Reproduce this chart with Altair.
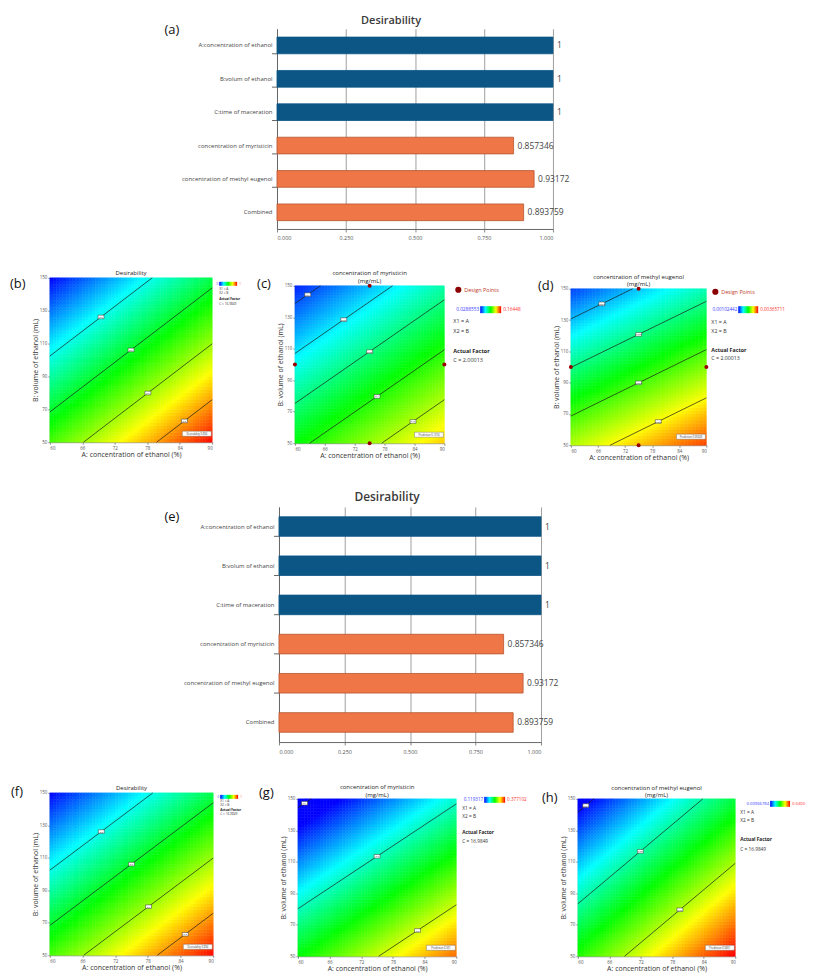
import altair as alt
import numpy as np
import pandas as pd

FONT = "Open Sans"

# ---------------- bar charts (a) and (e) ----------------
bar_names = ["A:concentration of ethanol", "B:volum of ethanol", "C:time of maceration",
             "concentration of myristicin", "concentration of methyl eugenol", "Combined"]
bar_values = [1.0, 1.0, 1.0, 0.857346, 0.93172, 0.893759]
bar_value_text = ["1", "1", "1", "0.857346", "0.93172", "0.893759"]
bar_group = ["factor", "factor", "factor", "response", "response", "response"]
bar_ticks = [0.0, 0.25, 0.5, 0.75, 1.0]
bar_fill = ["#0b5685", "#ee7647"]
bar_edge = ["#0b5685", "#b8562f"]

# ---------------- contour panels ----------------
A_ticks = [60, 66, 72, 78, 84, 90]
B_ticks = [50, 70, 90, 110, 130, 150]
design_A = [60, 90, 75, 75]
design_B = [100, 100, 150, 50]
rainbow = ["#0000ff", "#00ffff", "#00ff00", "#ffff00", "#ff0000"]

# surface values at the corners (A=60,B=150), (A=90,B=150), (A=60,B=50), (A=90,B=50)
des_corners = [0.360, 0.582, 0.654, 0.876]
des_levels = [0.5, 0.6, 0.7, 0.8]
des_level_text = ["0.5", "0.6", "0.7", "0.8"]

myr1_corners = [0.0329, 0.0744, 0.0959, 0.1374]
myr1_levels = [0.04, 0.06, 0.08, 0.10, 0.12]
myr1_level_text = ["0.04", "0.06", "0.08", "0.1", "0.12"]
myr1_range = [0.0288553, 0.16448]

meu1_corners = [0.00119, 0.00187, 0.00280, 0.00349]
meu1_levels = [0.0015, 0.002, 0.0025, 0.003]
meu1_level_text = ["0.0015", "0.002", "0.0025", "0.003"]
meu1_range = [0.00102442, 0.00365711]

myr2_corners = [0.0913, 0.195, 0.247, 0.351]
myr2_levels = [0.1, 0.2, 0.3]
myr2_level_text = ["0.1", "0.2", "0.3"]
myr2_range = [0.119317, 0.377102]

meu2_corners = [0.00854, 0.02297, 0.02572, 0.04015]
meu2_levels = [0.01, 0.02, 0.03]
meu2_level_text = ["0.01", "0.02", "0.03"]
meu2_range = [0.00966784, 0.0400]

ONE = pd.DataFrame({"k": [0]})


def field(c, A, B):
    u = (np.asarray(A) - 60.0) / 30.0
    w = (150.0 - np.asarray(B)) / 100.0
    return c[0] * (1 - u) * (1 - w) + c[1] * u * (1 - w) + c[2] * (1 - u) * w + c[3] * u * w


def surface(c, n=50):
    ae = np.linspace(60, 90, n + 1)
    be = np.linspace(50, 150, n + 1)
    a0, b0 = np.meshgrid(ae[:-1], be[:-1])
    a1, b1 = np.meshgrid(ae[1:], be[1:])
    v = field(c, (a0 + a1) / 2, (b0 + b1) / 2)
    return pd.DataFrame({"A0": a0.ravel(), "A1": a1.ravel(), "B0": b0.ravel(),
                         "B1": b1.ravel(), "v": v.ravel()})


def contour_lines(c, levels, texts):
    edges = [((60, 150), (90, 150), c[0], c[1]), ((60, 50), (90, 50), c[2], c[3]),
             ((60, 150), (60, 50), c[0], c[2]), ((90, 150), (90, 50), c[1], c[3])]
    rows, labs = [], []
    for L, t in zip(levels, texts):
        pts = []
        for p0, p1, v0, v1 in edges:
            if v0 == v1:
                continue
            f = (L - v0) / (v1 - v0)
            if 0 <= f <= 1:
                pt = (p0[0] + f * (p1[0] - p0[0]), p0[1] + f * (p1[1] - p0[1]))
                if all(abs(pt[0] - q[0]) > 1e-6 or abs(pt[1] - q[1]) > 1e-6 for q in pts):
                    pts.append(pt)
        pts = pts[:2]
        if len(pts) < 2:
            continue
        for p in pts:
            rows.append({"level": t, "A": p[0], "B": p[1]})
        labs.append({"level": t, "A": (pts[0][0] + pts[1][0]) / 2,
                     "B": (pts[0][1] + pts[1][1]) / 2})
    return pd.DataFrame(rows), pd.DataFrame(labs)


def txt(s, x, y, size, color="#222", weight="normal", align="left", baseline="middle"):
    return alt.Chart(ONE).mark_text(text=s, fontSize=size, color=color, fontWeight=weight,
                                    align=align, baseline=baseline).encode(
        x=alt.value(x), y=alt.value(y))


def frame(x0, x1, y0, y1):
    # invisible box that fixes the extent of a cell in the page layout
    return alt.Chart(ONE).mark_rect(opacity=0).encode(
        x=alt.value(x0), x2=alt.value(x1), y=alt.value(y0), y2=alt.value(y1))


def spacer(w):
    return alt.layer(frame(0, w, 0, 1)).properties(width=w, height=1)


GRAD = alt.LinearGradient(gradient="linear", x1=0, x2=1, y1=0, y2=0,
                          stops=[alt.GradientStop(color=c, offset=o)
                                 for c, o in zip(rainbow, [0, 0.25, 0.5, 0.75, 1])])


def contour_panel(W, H, oy, box, tag, tag_dx, tag_dy, title, title_y, corners, levels,
                  level_text, lo, hi, lo_text, hi_text, flag_text, leg, design=False):
    Ht = H + oy
    xs = alt.Scale(domain=[60, 90], nice=False, zero=False)
    ys = alt.Scale(domain=[50, 150], nice=False, zero=False, range=[Ht, oy])
    axx = alt.Axis(values=A_ticks, format="d", title="A: concentration of ethanol (%)",
                   labelFontSize=4.5, titleFontSize=7, tickSize=2, labelPadding=1,
                   titlePadding=1, domainColor="#888", tickColor="#888",
                   labelColor="#555", titleColor="#333", titleFontWeight="normal", grid=False)
    axy = alt.Axis(values=B_ticks, format="d", title="B: volume of ethanol (mL)",
                   labelFontSize=4.5, titleFontSize=7, tickSize=2, labelPadding=1,
                   titlePadding=1, domainColor="#888", tickColor="#888",
                   labelColor="#555", titleColor="#333", titleFontWeight="normal", grid=False)
    cs = alt.Scale(domain=list(np.linspace(lo, hi, 5)), range=rainbow, clamp=True,
                   interpolate="rgb")
    sdf = surface(corners)
    heat = alt.Chart(sdf).mark_rect(strokeWidth=0.5).encode(
        x=alt.X("A0:Q", scale=xs, axis=axx), x2=alt.X2("A1"),
        y=alt.Y("B0:Q", scale=ys, axis=axy), y2=alt.Y2("B1"),
        fill=alt.Fill("v:Q", scale=cs, legend=None),
        stroke=alt.Stroke("v:Q", scale=cs, legend=None))
    ldf, labdf = contour_lines(corners, levels, level_text)
    lines = alt.Chart(ldf).mark_line(color="#1a1a1a", strokeWidth=0.7).encode(
        x=alt.X("A:Q", scale=xs, axis=axx), y=alt.Y("B:Q", scale=ys, axis=axy),
        detail="level:N")
    boxes = alt.Chart(labdf).mark_point(shape="M-1,-0.6L1,-0.6L1,0.6L-1,0.6Z", filled=True,
                                         fill="white", stroke="#333", strokeWidth=0.5,
                                         size=36, opacity=1).encode(
        x=alt.X("A:Q", scale=xs, axis=axx), y=alt.Y("B:Q", scale=ys, axis=axy))
    boxtxt = alt.Chart(labdf).mark_text(fontSize=2.4, color="#333").encode(
        x=alt.X("A:Q", scale=xs, axis=axx), y=alt.Y("B:Q", scale=ys, axis=axy),
        text="level:N")
    L, R, T, Bt = box
    layers = [frame(-L, W + R, -T, Ht + Bt), heat, lines, boxes, boxtxt]
    if design:
        ddf = pd.DataFrame({"A": design_A, "B": design_B})
        layers.append(alt.Chart(ddf).mark_circle(color="#990000", size=16, opacity=1).encode(
            x=alt.X("A:Q", scale=xs, axis=axx), y=alt.Y("B:Q", scale=ys, axis=axy)))
    # prediction flag
    layers.append(alt.Chart(ONE).mark_rect(fill="white", stroke="#666", strokeWidth=0.4).encode(
        x=alt.value(W - 30), x2=alt.value(W - 1), y=alt.value(Ht - 11), y2=alt.value(Ht - 6)))
    layers.append(txt(flag_text, W - 15.5, Ht - 8.5, 2.6, "#333", align="center"))
    # legend
    fs = leg["fs"]
    if design:
        layers.append(alt.Chart(ONE).mark_circle(color="#8b0000", size=38, opacity=1).encode(
            x=alt.value(W + leg["dp"][0]), y=alt.value(oy + leg["dp"][1])))
        layers.append(txt("Design Points", W + leg["dp"][0] + 6, oy + leg["dp"][1], fs,
                          "#c0392b"))
    bx0, bx1, by = leg["bar"]
    by = by + oy
    bh = leg["bh"]
    layers.append(alt.Chart(ONE).mark_rect(fill=GRAD).encode(
        x=alt.value(W + bx0), x2=alt.value(W + bx1), y=alt.value(by - bh / 2),
        y2=alt.value(by + bh / 2)))
    layers.append(txt(lo_text, W + bx0 - 1, by, leg["fs2"], "#3a3aff", align="right"))
    layers.append(txt(hi_text, W + bx1 + 2, by, leg["fs2"], "#ff3030"))
    lx = leg["x"]
    ly = [v + oy for v in leg["y"]]
    layers.append(txt("X1 = A", W + lx, ly[0], fs, "#333"))
    layers.append(txt("X2 = B", W + lx, ly[1], fs, "#333"))
    layers.append(txt("Actual Factor", W + lx, ly[2], fs, "#222", weight="bold"))
    layers.append(txt(leg["c"], W + lx, ly[3], fs, "#333"))
    # title lines and panel tag
    for line, ty in zip(title, title_y):
        layers.append(txt(line, W / 2, oy + ty, 6, "#222", align="center"))
    layers.append(txt(tag, tag_dx, oy + tag_dy, 13, "#111"))
    return alt.layer(*layers).properties(width=W, height=Ht)


def bar_panel(W, H, box, tag, tag_dx, tag_dy, title_size, title_dx, title_y):
    df = pd.DataFrame({"name": bar_names, "value": bar_values, "text": bar_value_text,
                       "group": bar_group})
    ysc = alt.Scale(domain=bar_names, paddingInner=0.5, paddingOuter=0.25)
    yax = alt.Axis(title=None, labelFontSize=6, labelColor="#444", labelPadding=5,
                   ticks=False, domainColor="#666", labelLimit=300)
    xsc = alt.Scale(domain=[0, 1], nice=False)
    xax = alt.Axis(values=bar_ticks, format=".3f", title=None, labelFontSize=5.5,
                   labelColor="#555", grid=True, gridColor="#a0a0a0", gridWidth=1,
                   tickSize=3, tickColor="#888", domainColor="#666", labelPadding=4)
    y = alt.Y("name:N", scale=ysc, axis=yax)
    x = alt.X("value:Q", scale=xsc, axis=xax)
    bars = alt.Chart(df).mark_bar(strokeWidth=0.8).encode(
        x=x, y=y,
        fill=alt.Fill("group:N", scale=alt.Scale(domain=["factor", "response"], range=bar_fill),
                      legend=None),
        stroke=alt.Stroke("group:N", scale=alt.Scale(domain=["factor", "response"],
                                                      range=bar_edge), legend=None))
    vals = alt.Chart(df).mark_text(align="left", dx=4, fontSize=8.5, color="#444",
                                   baseline="middle").encode(x=x, y=y, text="text:N")
    ticks = alt.Chart(df.iloc[:5]).mark_rule(color="#666", strokeWidth=1).encode(
        y=y, x=alt.value(-5), x2=alt.value(0), yOffset=alt.value(H / 12.0))
    L, R, T, Bt = box
    return alt.layer(
        frame(-L, W + R, -T, H + Bt), bars, vals, ticks,
        txt("Desirability", W / 2 + title_dx, title_y, title_size, "#3a3a3a", weight=600,
            align="center"),
        txt(tag, tag_dx, tag_dy, 13, "#111"),
    ).properties(width=W, height=H)


def flow(charts, cols):
    return alt.concat(*charts, columns=cols, align="none", spacing=0).resolve_scale(
        x="independent", y="independent", fill="independent", stroke="independent")


leg_des_b = {"fs": 3.2, "fs2": 3.0, "bar": (7, 25, 6), "bh": 4, "x": 7, "y": [11, 15, 21, 26],
             "c": "C = 16.9849"}
leg_des_f = {"fs": 3.2, "fs2": 3.0, "bar": (7, 25, 4), "bh": 4, "x": 7, "y": [8, 12, 17, 21],
             "c": "C = 16.9849"}
leg_c = {"fs": 5.5, "fs2": 4.8, "dp": (14, 4), "bar": (36, 57, 24), "bh": 7, "x": 9,
         "y": [35, 45, 65, 75], "c": "C = 2.00013"}
leg_d = {"fs": 5.3, "fs2": 4.6, "dp": (9, 3), "bar": (32, 52, 21), "bh": 7, "x": 5,
         "y": [33, 42, 61, 70], "c": "C = 2.00013"}
leg_g = {"fs": 4.8, "fs2": 4.6, "bar": (28, 49, 1), "bh": 6, "x": 6,
         "y": [10, 18, 34, 43], "c": "C = 16.9849"}
leg_h = {"fs": 4.8, "fs2": 4.2, "bar": (35, 55, 5), "bh": 6, "x": 5,
         "y": [14, 22, 41, 51], "c": "C = 16.9849"}

# cell boxes: (left, right, top, bottom) room around each plot area
panel_b = contour_panel(163, 165, 0, (42, 37, 22, 28), "(b)", -40, 6, ["Desirability"], [-5],
                        des_corners, des_levels, des_level_text, 0.36, 0.88, "0", "1",
                        "Desirability 0.894", leg_des_b)
panel_c = contour_panel(150, 158, 8, (46, 89, 22, 27), "(c)", -38, -2,
                        ["concentration of myristicin", "(mg/mL)"], [-13, -4.5],
                        myr1_corners, myr1_levels, myr1_level_text, myr1_range[0],
                        myr1_range[1], "0.0288553", "0.16448", "Prediction 0.1374", leg_c,
                        design=True)
panel_d = contour_panel(136, 157, 11, (38, 97, 22, 25), "(d)", -33, -3,
                        ["concentration of methyl eugenol", "(mg/mL)"], [-12, -4.5],
                        meu1_corners, meu1_levels, meu1_level_text, meu1_range[0],
                        meu1_range[1], "0.00102442", "0.00365711", "Prediction 0.00349",
                        leg_d, design=True)
panel_f = contour_panel(164, 163, 0, (41, 42, 27, 16), "(f)", -39, -1, ["Desirability"], [-5],
                        des_corners, des_levels, des_level_text, 0.36, 0.88, "0", "1",
                        "Desirability 0.894", leg_des_f)
panel_g = contour_panel(159, 158, 6, (43, 83, 27, 15), "(g)", -39, -6,
                        ["concentration of myristicin", "(mg/mL)"], [-12, -4],
                        myr2_corners, myr2_levels, myr2_level_text, myr2_range[0],
                        myr2_range[1], "0.119317", "0.377102", "Prediction 0.351", leg_g)
panel_h = contour_panel(158, 158, 6, (39, 69, 27, 15), "(h)", -36, -1,
                        ["concentration of methyl eugenol", "(mg/mL)"], [-11, -4],
                        meu2_corners, meu2_levels, meu2_level_text, meu2_range[0],
                        meu2_range[1], "0.00966784", "0.0400", "Prediction 0.0401", leg_h)

bar_a = bar_panel(277, 201, (115, 251, 19, 27), "(a)", -113, 1, 11, -24, -8)
bar_e = bar_panel(263, 236, (117, 263, 37, 24), "(e)", -115, 10, 12, -23, -10)

row1 = flow([spacer(113), bar_a], 2)
row2 = flow([panel_b, panel_c, panel_d], 3)
row3 = flow([spacer(113), bar_e], 2)
row4 = flow([panel_f, panel_g, panel_h], 3)

chart = flow([row1, row2, row3, row4], 1).properties(
    padding={"left": 0, "top": 0, "right": 0, "bottom": 0}
).configure(font=FONT).configure_view(strokeWidth=0)

chart.save("out.html", embed_options={"renderer": "svg", "actions": False})
